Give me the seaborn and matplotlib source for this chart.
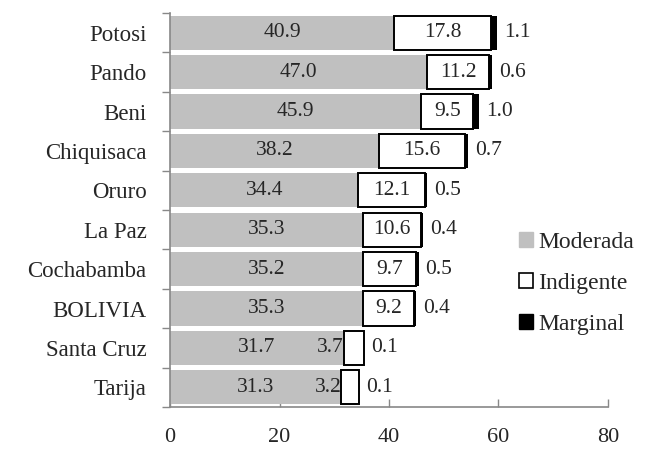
import numpy as np
import pandas as pd
import seaborn as sns
import matplotlib.pyplot as plt
from matplotlib.patches import Patch

regiones = ['Potosi', 'Pando', 'Beni', 'Chiquisaca', 'Oruro', 'La Paz',
            'Cochabamba', 'BOLIVIA', 'Santa Cruz', 'Tarija']
moderada = [40.9, 47.0, 45.9, 38.2, 34.4, 35.3, 35.2, 35.3, 31.7, 31.3]
indigente = [17.8, 11.2, 9.5, 15.6, 12.1, 10.6, 9.7, 9.2, 3.7, 3.2]
marginal = [1.1, 0.6, 1.0, 0.7, 0.5, 0.4, 0.5, 0.4, 0.1, 0.1]

df = pd.DataFrame({'region': regiones, 'Moderada': moderada,
                   'Indigente': indigente, 'Marginal': marginal})
df['izq_ind'] = df['Moderada']
df['izq_mar'] = df['Moderada'] + df['Indigente']

sns.set_style('white')
plt.rcParams['font.family'] = ['Liberation Serif', 'DejaVu Serif']

fig = plt.figure(figsize=(6.45, 4.49), dpi=100)
ax = fig.add_axes([0.2636, 0.0935, 0.679, 0.8775])

gris = '#C0C0C0'
sns.barplot(data=df, y='region', x='Moderada', order=regiones, orient='h',
            color=gris, saturation=1, width=0.87, linewidth=0, ax=ax)
sns.barplot(data=df, y='region', x='Indigente', order=regiones, orient='h',
            width=0.87, left=df['izq_ind'].values, color='white', saturation=1,
            edgecolor='black', linewidth=1.4, ax=ax)
sns.barplot(data=df, y='region', x='Marginal', order=regiones, orient='h',
            width=0.87, left=df['izq_mar'].values, color='black', saturation=1,
            linewidth=0, ax=ax)

fs = 15.5
for i, row in df.iterrows():
    ax.text(row['Moderada'] / 2, i, f"{row['Moderada']:.1f}", ha='center',
            va='center', fontsize=fs)
    if row['Indigente'] > 5:
        ax.text(row['Moderada'] + row['Indigente'] / 2, i,
                f"{row['Indigente']:.1f}", ha='center', va='center', fontsize=fs)
    else:
        ax.text(row['Moderada'], i, f"{row['Indigente']:.1f}", ha='right',
                va='center', fontsize=fs)
    ax.annotate(f"{row['Marginal']:.1f}",
                (row['Moderada'] + row['Indigente'] + row['Marginal'], i),
                xytext=(5, 0), textcoords='offset points', ha='left',
                va='center', fontsize=fs)

ax.set_xlim(0, 80)
ax.set_ylim(9.5, -0.5)
ax.set_xticks([0, 20, 40, 60, 80])
ax.set_xlabel('')
ax.set_ylabel('')
ax.set_yticks(np.arange(-0.5, 10, 1), minor=True)
ax.tick_params(axis='y', which='major', length=0, labelsize=16.5, pad=17)
ax.tick_params(axis='y', which='minor', length=6, width=1, color='#888888',
               direction='out', left=True)
ax.tick_params(axis='x', length=6, width=1, color='#888888', direction='in',
               labelsize=16, pad=15, bottom=True)
for s in ['top', 'right']:
    ax.spines[s].set_visible(False)
for s in ['left', 'bottom']:
    ax.spines[s].set_color('#888888')
    ax.spines[s].set_linewidth(1.2)

handles = [Patch(facecolor=gris, edgecolor=gris, label='Moderada'),
           Patch(facecolor='white', edgecolor='black', linewidth=1.2, label='Indigente'),
           Patch(facecolor='black', edgecolor='black', label='Marginal')]
fig.legend(handles=handles, loc='upper left', bbox_to_anchor=(0.79, 0.505),
           frameon=False, fontsize=17, handlelength=0.6, handleheight=0.6,
           handletextpad=0.2, labelspacing=0.85, borderaxespad=0)

fig.savefig('out.png', dpi=100)
